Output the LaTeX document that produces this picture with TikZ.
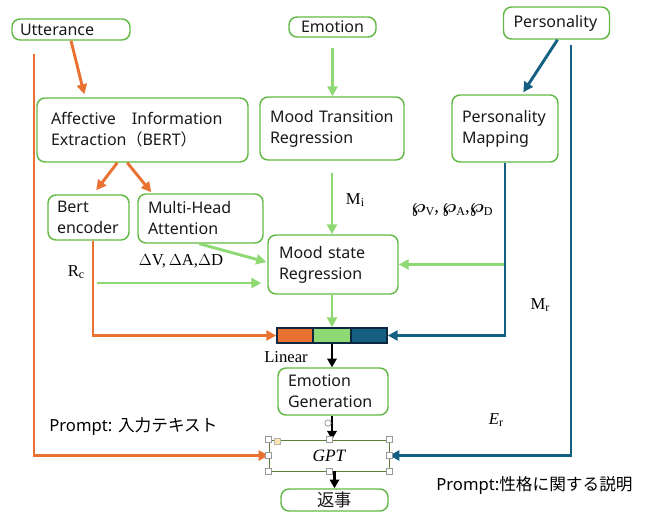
\documentclass[tikz,border=0pt]{standalone}
\usepackage[no-math]{fontspec}
\newfontfamily\nsans{Noto Sans}
\newfontfamily\jp{Noto Sans CJK JP}
\newfontfamily\lser{Liberation Serif}
\usetikzlibrary{arrows.meta,calc}
\definecolor{boxg}{HTML}{62B844}
\definecolor{orng}{HTML}{E97132}
\definecolor{lgrn}{HTML}{8ED973}
\definecolor{teal}{HTML}{156082}
\definecolor{dnav}{HTML}{0E2841}
\definecolor{gptb}{HTML}{5E7D3A}
\newcommand{\lsub}[1]{\raisebox{-0.35ex}{\fontsize{9}{10}\selectfont #1}}
\newcommand{\wpx}{{\boldmath$\wp$}}
\tikzset{
  bx/.style={draw=boxg, line width=1.1pt, rounded corners=6pt, text=black!90,
    font=\nsans\fontsize{12}{15.75}\selectfont, inner ysep=0pt, align=left},
  seg/.style={draw=dnav, line width=1.1pt, minimum height=11.25pt, inner sep=0pt},
  tip/.style={-{Triangle[length=7.5pt,width=7.5pt]}},
  oa/.style={tip, draw=orng, line width=2.2pt},
  ga/.style={tip, draw=lgrn, line width=2.2pt},
  ta/.style={tip, draw=teal, line width=2.2pt},
  ka/.style={-{Triangle[length=6.5pt,width=7pt]}, draw=black, line width=1.8pt},
  lbl/.style={font=\lser\fontsize{12.5}{14}\selectfont, inner sep=0pt},
  ptxt/.style={font=\nsans\fontsize{12.5}{15}\selectfont, inner sep=0pt, anchor=west},
  hnd/.style={draw=black!40, fill=white, line width=0.4pt}
}
\begin{document}
\begin{tikzpicture}[x=0.75pt, y=-0.75pt]
\useasboundingbox (0,0) rectangle (652,513);
% boxes
\node[bx, text width=76.5pt, inner xsep=6pt, minimum height=15.75pt] (utt) at (71,29.5) {Utterance};
\node[bx, align=center, minimum width=65.25pt, minimum height=15pt] (emo) at (332.5,27) {Emotion};
\node[bx, text width=64.5pt, inner xsep=7.5pt, minimum height=24pt] (pers) at (556.5,23) {Personality};
\node[bx, text width=137.25pt, inner xsep=10.5pt, minimum height=48pt] (aff) at (142.5,130)
  {Affective{\jp　}Information\\Extraction{\jp（}BERT{\jp）}};
\node[bx, text width=93pt, inner xsep=7.5pt, minimum height=47.25pt] (mt) at (332,128.5) {Mood Transition\\Regression};
\node[bx, text width=64.5pt, inner xsep=7.5pt, minimum height=50.25pt] (pm) at (505,128.5) {Personality\\Mapping};
\node[bx, text width=47.25pt, inner xsep=6.75pt, minimum height=33.75pt] (bert) at (88.5,217.5) {Bert\\encoder};
\node[bx, text width=78.75pt, inner xsep=7.5pt, minimum height=36.75pt] (mha) at (200.5,218.5) {Multi-Head\\Attention};
\node[bx, text width=81pt, inner xsep=8.25pt, minimum height=44.25pt] (mood) at (333,264.5) {Mood state\\Regression};
\node[seg, fill=orng, minimum width=27pt] (barO) at (295,335.5) {};
\node[seg, fill=lgrn, minimum width=28.5pt] (barG) at (332,335.5) {};
\node[seg, fill=teal, minimum width=27pt] (barB) at (369,335.5) {};
\node[bx, text width=67.5pt, inner xsep=7.5pt, minimum height=35.25pt] (eg) at (333,391.5) {Emotion\\Generation};
\node[draw=gptb, line width=0.6pt, minimum width=90pt, minimum height=23.25pt, inner sep=0pt,
  font=\lser\itshape\fontsize{13}{14}\selectfont] (gpt) at (329,455.5) {GPT};
\node[bx, align=center, minimum width=80.25pt, minimum height=16.5pt, font=\jp\fontsize{13}{15}\selectfont] (reply) at (334.5,500) {返事};
% free ends
\coordinate (ustart) at (34,54);
\coordinate (pstart) at (571,45);
\coordinate (rcs) at (97,283);
% orange connectors
\draw[oa] (utt.south) -- ($(aff.north west)+(48,-3)$);
\draw[oa] (ustart) |- (gpt.west);
\draw[oa] ($(aff.south west)+(81,0)$) -- ($(bert.north west)+(49,-4)$);
\draw[oa] ($(aff.south west)+(91,0)$) -- ($(mha.north west)+(14,-1)$);
\draw[oa] ($(bert.south)+(4.5,0)$) |- (barO.west);
% green connectors
\draw[ga] (rcs) -- ($(rcs -| mood.west)+(-6,0)$);
\draw[ga] ($(mha.south west)+(62,0)$) -- ($(mood.west)+(-1,-2.5)$);
\draw[ga, shorten <=7.5pt] (emo.south) -- (emo.south |- mt.north);
\draw[ga, shorten <=9pt] (mt.south) -- (mt.south |- mood.north);
\draw[ga] (mood.south -| barG.north) -- (barG.north);
\draw[ga] (pm.south |- mood.east) -- (mood.east);
% teal connectors
\draw[ta] ($(pers.south)+(1,0)$) -- ($(pm.north west)+(72,-2)$);
\draw[ta] (pstart) |- (gpt.east);
\draw[ta] (pm.south) |- (barB.east);
% black connectors
\draw[ka] (barG.south) -- (barG.south |- eg.north);
\draw[ka] (eg.south -| barG.south) -- (barG.south |- gpt.north);
\draw[ka] (gpt.south -| reply.north) -- (reply.north);
% selection handles of the GPT box
\foreach \p in {north west, north, north east, west, east, south west, south, south east}
  \draw[hnd] ($(gpt.\p)+(-3,-3)$) rectangle ++(6,6);
\fill[fill=yellow!35!orange!30, draw=black!30, line width=0.3pt] (274,438) rectangle ++(6,6);
\draw[draw=black!45, fill=white, line width=0.5pt] (328,423) circle[radius=3.2];
% labels
\node[lbl] (lrc) at (76,272) {R\lsub{c}};
\node[lbl] (ldv) at (181,261) {$\Delta$V,\,$\Delta$A,$\Delta$D};
\node[lbl] (lmi) at (355,200) {M\lsub{i}};
\node[lbl, font=\lser\fontsize{14}{15}\selectfont] (lpv) at (452,210) {\wpx\lsub{V},\,\wpx\lsub{A},\wpx\lsub{D}};
\node[lbl] (lmr) at (540,305) {M\lsub{r}};
\node[lbl] (ler) at (496,420) {\textit{E}\lsub{r}};
\node[lbl] (llin) at (286,357) {Linear};
\node[ptxt] (pr1) at (49,427) {Prompt: {\jp 入力テキスト}};
\node[ptxt] (pr2) at (436,485) {Prompt:{\jp 性格に関する説明}};
\end{tikzpicture}
\end{document}
